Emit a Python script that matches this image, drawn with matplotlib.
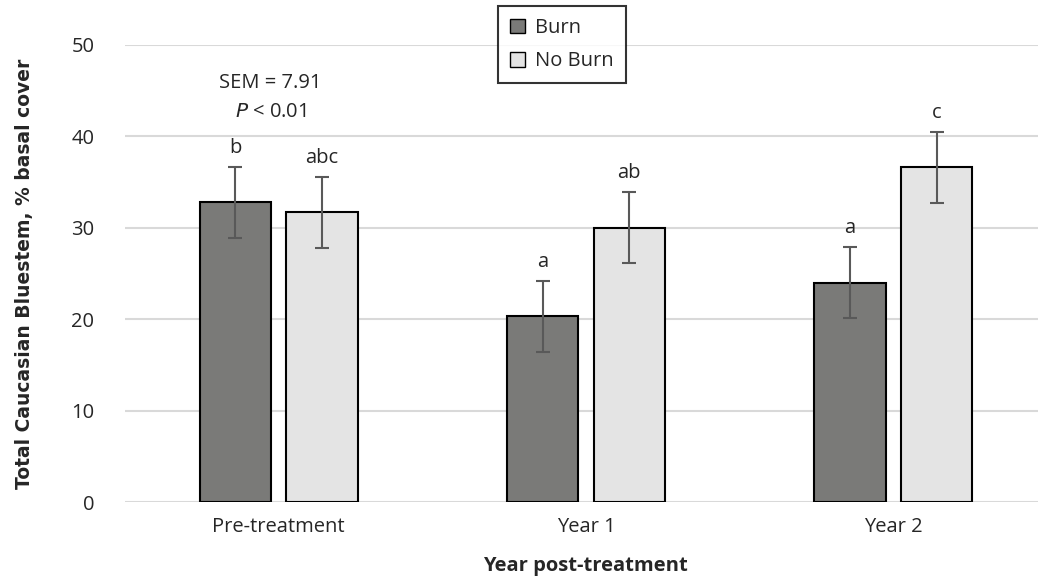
import matplotlib
matplotlib.use("Agg")
import matplotlib.pyplot as plt
from matplotlib.patches import Patch
import numpy as np

categories = ["Pre-treatment", "Year 1", "Year 2"]
burn = [32.8, 20.3, 24.0]
no_burn = [31.7, 30.0, 36.6]
burn_err = [3.9, 3.9, 3.9]
no_burn_err = [3.9, 3.9, 3.9]
burn_letters = ["b", "a", "a"]
no_burn_letters = ["abc", "ab", "c"]
yticks = [0, 10, 20, 30, 40, 50]

plt.rcParams['font.family'] = ['Open Sans', 'DejaVu Sans']
txt = '#262626'
fs = 14.5

fig = plt.figure(figsize=(10.38, 5.84), dpi=100)
ax = fig.add_axes([125/1038, 1-502/584, (1047-125)/1038, (502-45)/584])

x = np.arange(len(categories))
w = 0.232
off = 0.141
ax.bar(x - off, burn, w, color='#7a7a78', edgecolor='black', linewidth=1.5, zorder=3)
ax.bar(x + off, no_burn, w, color='#e4e4e4', edgecolor='black', linewidth=1.5, zorder=3)
ax.errorbar(x - off, burn, yerr=burn_err, fmt='none', ecolor='#595959', elinewidth=1.5,
            capsize=5, capthick=1.5, zorder=4)
ax.errorbar(x + off, no_burn, yerr=no_burn_err, fmt='none', ecolor='#595959', elinewidth=1.5,
            capsize=5, capthick=1.5, zorder=4)

for xi, v, e, l in zip(x - off, burn, burn_err, burn_letters):
    ax.annotate(l, (xi, v + e), xytext=(0, 6.5), textcoords='offset points',
                ha='center', va='bottom', fontsize=fs, color=txt)
for xi, v, e, l in zip(x + off, no_burn, no_burn_err, no_burn_letters):
    ax.annotate(l, (xi, v + e), xytext=(0, 6.5), textcoords='offset points',
                ha='center', va='bottom', fontsize=fs, color=txt)

ax.text(-0.026, 45.8, "SEM = 7.91", ha='center', va='center', fontsize=fs, color=txt)
ax.text(-0.026, 42.7, r"$\it{P}$ < 0.01", ha='center', va='center', fontsize=fs, color=txt)

ax.set_xlim(-0.5, 2.5)
ax.set_ylim(0, 50)
ax.set_yticks(yticks)
ax.set_xticks(x)
ax.set_xticklabels(categories)
ax.tick_params(axis='both', length=0, labelsize=fs, colors=txt)
ax.tick_params(axis='x', pad=11)
ax.tick_params(axis='y', pad=22)
ax.grid(axis='y', color='#d9d9d9', linewidth=1.5, zorder=0)
for s in ax.spines.values():
    s.set_visible(False)

ax.set_ylabel("Total Caucasian Bluestem, % basal cover", fontsize=13.5,
              fontweight='bold', family='DejaVu Sans', color=txt, labelpad=27)
fig.text(585/1038, 1-566/584, "Year post-treatment", ha='center', va='center',
         fontsize=fs, fontweight='bold', color=txt)

handles = [Patch(facecolor='#7a7a78', edgecolor='black', label='Burn'),
           Patch(facecolor='#e4e4e4', edgecolor='black', label='No Burn')]
leg = fig.legend(handles=handles, loc='upper left', bbox_to_anchor=(498/1038, 1-6/584),
                 fontsize=fs, frameon=True, fancybox=False, edgecolor='black',
                 handlelength=0.75, handleheight=0.75, handletextpad=0.5,
                 borderpad=0.6, labelspacing=0.65, borderaxespad=0)
leg.get_frame().set_linewidth(1.5)
for t in leg.get_texts():
    t.set_color(txt)

fig.savefig("out.png", dpi=100)
